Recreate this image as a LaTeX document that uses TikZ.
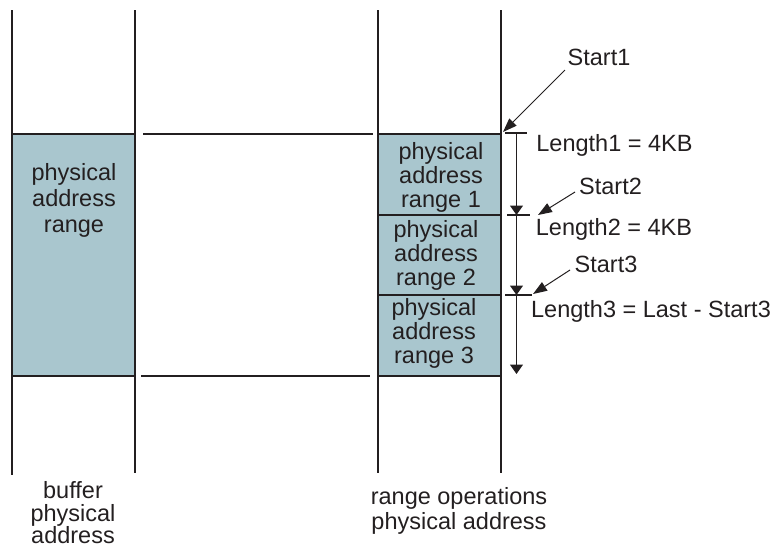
\documentclass[tikz,border=0pt]{standalone}
\usepackage{fontspec}
\setmainfont{Liberation Sans}
\usetikzlibrary{arrows.meta}
\definecolor{ink}{HTML}{231F20}
\definecolor{boxfill}{RGB}{169,198,206}
\begin{document}
\begin{tikzpicture}[x=1pt,y=-1pt,
  rail/.style={draw=ink, line width=1.1pt},
  membox/.style={draw=ink, fill=boxfill, line width=1.1pt, inner sep=0pt, minimum width=123pt},
  lbl/.style={font=\fontsize{23.5}{24}\selectfont, text=ink, inner sep=0pt, align=center},
  dimarrow/.style={draw=ink, line width=1.1pt, -{Triangle[length=9.5pt,width=13pt]}},
  ptr/.style={draw=ink, line width=1pt, -{Triangle[length=14pt,width=10pt]}}]
\useasboundingbox (0,0) rectangle (777,550);

% column rails
\coordinate (la) at (12,10);  \coordinate (lb) at (12,475);
\coordinate (lc) at (135,10); \coordinate (ld) at (135,473);
\coordinate (ra) at (378,10); \coordinate (rb) at (378,473);
\coordinate (rc) at (501,10); \coordinate (rd) at (501,473);

% boxes
\node[membox, minimum height=242pt] (buf) at (73.5,255) {};
\node[membox, minimum height=81pt] (r1) at (439.5,174.5) {};
\node[membox, minimum height=80pt] (r2) at (439.5,255) {};
\node[membox, minimum height=81pt] (r3) at (439.5,335.5) {};

\draw[rail] (la) -- (lb);
\draw[rail] (lc) -- (ld);
\draw[rail] (ra) -- (rb);
\draw[rail] (rc) -- (rd);

% mapping lines
\coordinate (h1a) at (143,134); \coordinate (h1b) at (373,134);
\coordinate (h2a) at (141,376); \coordinate (h2b) at (370,376);
\draw[rail] (h1a) -- (h1b);
\draw[rail] (h2a) -- (h2b);

% box texts
\node[lbl, font=\fontsize{23.5}{26}\selectfont] (tbuf) at (74,200) {physical\\address\\range};
\node[lbl] (t1) at (441,177) {physical\\address\\range 1};
\node[lbl] (t2) at (436,255.5) {physical\\address\\range 2};
\node[lbl] (t3) at (434,333.5) {physical\\address\\range 3};

% dimension ticks and arrows
\coordinate (k1a) at (505,133); \coordinate (k1b) at (527,133);
\coordinate (k2a) at (507,215); \coordinate (k2b) at (530,215);
\coordinate (k3a) at (505,295); \coordinate (k3b) at (532,295);
\draw[rail] (k1a) -- (k1b);
\draw[rail] (k2a) -- (k2b);
\draw[rail] (k3a) -- (k3b);
\coordinate (d0) at (516.5,133);
\coordinate (d1) at (516.5,215);
\coordinate (d2) at (516.5,295);
\coordinate (d3) at (516.5,374);
\draw[dimarrow] (d0) -- (d1);
\draw[dimarrow] (d1) -- (d2);
\draw[dimarrow] (d2) -- (d3);

% labels
\node[lbl, anchor=base] (s1) at (599,65) {Start1};
\node[lbl, anchor=base] (l1) at (614.5,151.7) {Length1 = 4KB};
\node[lbl, anchor=base] (s2) at (610.5,194) {Start2};
\node[lbl, anchor=base] (l2) at (614,235) {Length2 = 4KB};
\node[lbl, anchor=base] (s3) at (606,272.7) {Start3};
\node[lbl, anchor=base] (l3) at (651,317) {Length3 = Last - Start3};

% pointers
\coordinate (p1a) at (565,70);  \coordinate (p1b) at (503,132);
\coordinate (p2a) at (575,192); \coordinate (p2b) at (538,215);
\coordinate (p3a) at (570,270); \coordinate (p3b) at (533,294);
\draw[ptr] (p1a) -- (p1b);
\draw[ptr] (p2a) -- (p2b);
\draw[ptr] (p3a) -- (p3b);

% captions
\node[lbl, font=\fontsize{23.5}{22.5}\selectfont] (cbuf) at (73,513) {buffer\\physical\\address};
\node[lbl, font=\fontsize{23.5}{25}\selectfont] (crng) at (459,510.5) {range operations\\physical address};
\end{tikzpicture}
\end{document}
